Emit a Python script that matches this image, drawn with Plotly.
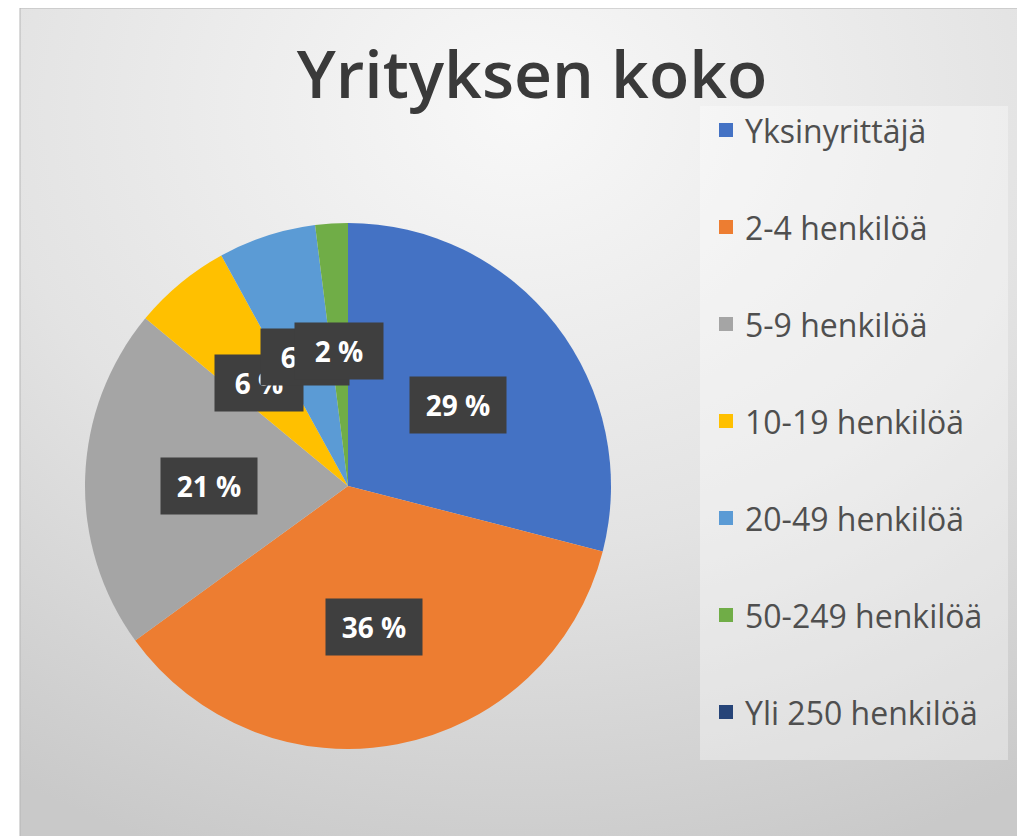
import base64
import math
import plotly.graph_objects as go

# ---- data ----
categories = ["Yksinyrittäjä", "2-4 henkilöä", "5-9 henkilöä", "10-19 henkilöä",
              "20-49 henkilöä", "50-249 henkilöä", "Yli 250 henkilöä"]
values = [29, 36, 21, 6, 6, 2, 0]
colors = ["#4472C4", "#ED7D31", "#A5A5A5", "#FFC000", "#5B9BD5", "#70AD47", "#264478"]
title_text = "Yrityksen koko"

# ---- layout geometry (page pixels; page has an 8px body margin) ----
W, H = 1025, 836
OFF = 8


def px2x(px):
    return (px - OFF) / W


def py2y(py):
    return 1 - (py - OFF) / H


CX, CY, R = 348, 486, 263
LABEL_R = 0.53

dom_x = [px2x(CX - R), px2x(CX + R)]
dom_y = [py2y(CY + R), py2y(CY - R)]

fig = go.Figure(go.Pie(
    labels=categories, values=values, sort=False, direction="clockwise", rotation=0,
    marker=dict(colors=colors, line=dict(width=0)),
    textinfo="none", showlegend=False, domain=dict(x=dom_x, y=dom_y),
))

# background gradient via SVG image
svg = """<svg xmlns='http://www.w3.org/2000/svg' width='1000' height='832' preserveAspectRatio='none'>
<defs><radialGradient id='g' cx='50%' cy='12%' r='95%' fx='50%' fy='12%'>
<stop offset='0' stop-color='#f8f8f8'/><stop offset='0.55' stop-color='#e3e3e3'/><stop offset='1' stop-color='#c9c9c9'/>
</radialGradient></defs><rect width='1000' height='832' fill='url(#g)'/></svg>"""
src = "data:image/svg+xml;base64," + base64.b64encode(svg.encode()).decode()

x0f, x1f = px2x(20), px2x(1021)
y_top, y_bot = py2y(8), 0.0
images = [dict(source=src, xref="paper", yref="paper", x=x0f, y=y_top,
               sizex=x1f - x0f, sizey=y_top - y_bot, sizing="stretch",
               xanchor="left", yanchor="top", layer="below")]

shapes = [
    dict(type="rect", xref="paper", yref="paper", x0=x0f, x1=x1f, y0=y_bot, y1=y_top,
         line=dict(color="#b5b5b5", width=1), fillcolor="rgba(0,0,0,0)", layer="below"),
    # legend box
    dict(type="rect", xref="paper", yref="paper", x0=px2x(700), x1=px2x(1008),
         y0=py2y(760), y1=py2y(106), line=dict(width=0),
         fillcolor="rgba(255,255,255,0.35)", layer="below"),
]

annotations = []

# data labels
total = sum(values)
cum = 0
for v in values:
    if v > 0:
        mid = (cum + v / 2) / total * 2 * math.pi
        px = CX + LABEL_R * R * math.sin(mid)
        py = CY - LABEL_R * R * math.cos(mid) + 4
        txt = f"{round(v / total * 100)} %"
        annotations.append(dict(
            x=px2x(px), y=py2y(py), xref="paper", yref="paper", showarrow=False,
            text=txt,
            font=dict(family="Open Sans, sans-serif", size=28, color="white", weight=700),
            bgcolor="#3f3f3f", borderpad=10, width=44 + 8 * len(txt), height=36,
            xanchor="center", yanchor="middle",
        ))
    cum += v

# legend (manual)
LEG_Y0, LEG_DY, SW = 130, 97, 14
for i, (cat, col) in enumerate(zip(categories, colors)):
    yc = LEG_Y0 + i * LEG_DY
    shapes.append(dict(type="rect", xref="paper", yref="paper",
                       x0=px2x(719), x1=px2x(719 + SW),
                       y0=py2y(yc + SW / 2), y1=py2y(yc - SW / 2),
                       line=dict(width=0), fillcolor=col))
    annotations.append(dict(
        x=px2x(743), y=py2y(yc), xref="paper", yref="paper", showarrow=False,
        text=cat, xanchor="left", yanchor="middle",
        font=dict(family="Open Sans, sans-serif", size=32, color="#4f4f4f"),
    ))

fig.update_layout(
    width=W, height=H, margin=dict(l=0, r=0, t=0, b=0),
    paper_bgcolor="white", plot_bgcolor="white",
    title=dict(text=title_text, x=px2x(532), y=py2y(75), xanchor="center", yanchor="middle",
               font=dict(family="Open Sans, sans-serif", size=66, color="#3a3a3a", weight=600)),
    images=images, shapes=shapes, annotations=annotations,
)

fig.write_html("out.html")
